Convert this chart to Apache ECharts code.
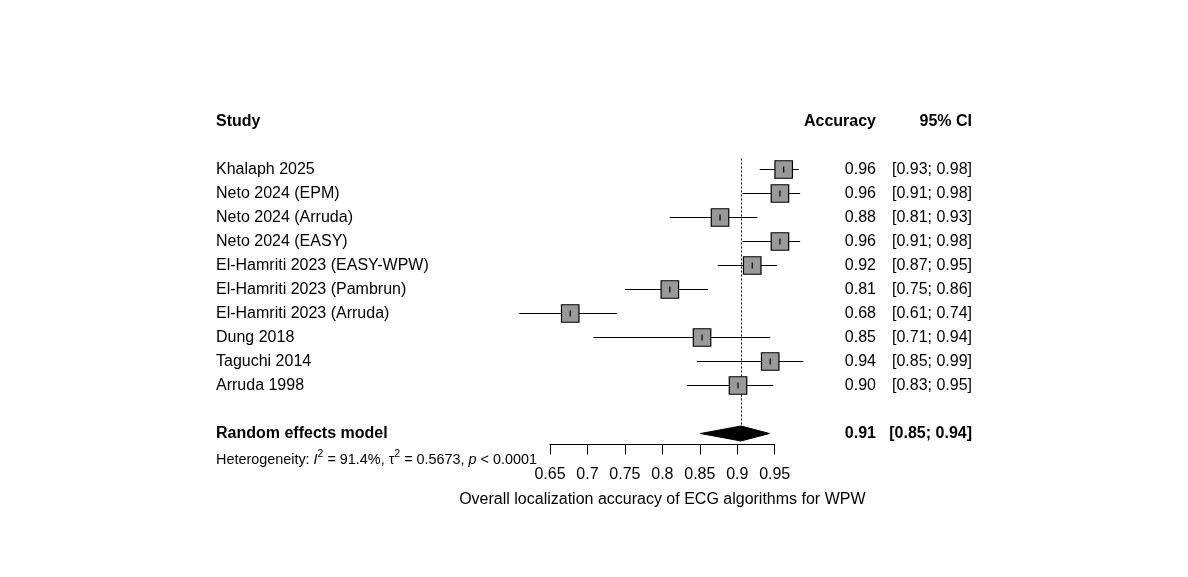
<!DOCTYPE html>
<html>
<head>
<meta charset="utf-8">
<script src="https://cdn.jsdelivr.net/npm/echarts@6/dist/echarts.min.js"></script>
<style>
html, body { margin: 0; padding: 0; background: #fff; }
#main { width: 1188px; height: 577px; }
</style>
</head>
<body>
<div id="main"></div>
<script>
var studies = ['Khalaph 2025', 'Neto 2024 (EPM)', 'Neto 2024 (Arruda)', 'Neto 2024 (EASY)',
	'El-Hamriti 2023 (EASY-WPW)', 'El-Hamriti 2023 (Pambrun)', 'El-Hamriti 2023 (Arruda)',
	'Dung 2018', 'Taguchi 2014', 'Arruda 1998'];
var accuracy = [0.962, 0.957, 0.877, 0.957, 0.920, 0.810, 0.677, 0.853, 0.944, 0.901];
var ciLower = [0.930, 0.907, 0.810, 0.907, 0.874, 0.750, 0.609, 0.708, 0.846, 0.833];
var ciUpper = [0.982, 0.984, 0.927, 0.984, 0.953, 0.861, 0.739, 0.944, 0.988, 0.948];
var pooled = [0.905, 0.851, 0.943]; // estimate, lower, upper
var xTicks = [0.65, 0.7, 0.75, 0.8, 0.85, 0.9, 0.95];
var modelName = 'Random effects model';
var rows = studies.concat(['', modelName]);

var font = '"Liberation Sans", Arial, sans-serif';
var myChart = echarts.init(document.getElementById('main'));

// x scale: 0.65 -> 550px, 0.95 -> 774.7px
var pxPerUnit = (774.7 - 550) / 0.3;
var colAcc = 876, colCI = 972, colStudy = 216;
var textDy = 0;

function fmt(v) { return v.toFixed(2); }

var studyData = accuracy.map(function (v, i) {
	return [v, i, ciLower[i], ciUpper[i]];
});

var option = {
	animation: false,
	grid: [
		{ left: 550 - 0.05 * pxPerUnit, width: 0.4 * pxPerUnit, top: 157.5, height: 288 },
		{ left: 550, width: 0.3 * pxPerUnit, top: 434.5, height: 10 }
	],
	xAxis: [
		{ gridIndex: 0, type: 'value', min: 0.6, max: 1.0, show: false },
		{
			gridIndex: 1, type: 'value', min: xTicks[0], max: xTicks[xTicks.length - 1], interval: 0.05,
			splitLine: { show: false },
			axisLine: { show: true, lineStyle: { color: '#000', width: 1 } },
			axisTick: { show: true, length: 10, lineStyle: { color: '#000' } },
			axisLabel: {
				margin: 22, color: '#000', fontSize: 16, fontFamily: font,
				formatter: function (v) { return String(Math.round(v * 100) / 100); }
			},
			name: 'Overall localization accuracy of ECG algorithms for WPW',
			nameLocation: 'middle', nameGap: 47,
			nameTextStyle: { color: '#000', fontSize: 16, fontFamily: font }
		}
	],
	yAxis: [
		{ gridIndex: 0, type: 'category', data: rows, inverse: true, show: false },
		{ gridIndex: 1, type: 'value', show: false }
	],
	graphic: [
		{ type: 'text', x: colStudy, y: 121.5, style: { text: 'Study', font: 'bold 16px ' + font, fill: '#000', verticalAlign: 'middle' } },
		{ type: 'text', x: colAcc, y: 121.5, style: { text: 'Accuracy', font: 'bold 16px ' + font, fill: '#000', align: 'right', verticalAlign: 'middle' } },
		{ type: 'text', x: colCI, y: 121.5, style: { text: '95% CI', font: 'bold 16px ' + font, fill: '#000', align: 'right', verticalAlign: 'middle' } },
		{
			type: 'text', x: colStudy, y: 460,
			style: {
				text: 'Heterogeneity: {i|I}{sup|2} = 91.4%, τ{sup|2} = 0.5673, {i|p} < 0.0001',
				font: '14.4px ' + font, fill: '#000', verticalAlign: 'middle',
				rich: {
					i: { fontStyle: 'italic', fontSize: 14.4, fontFamily: font },
					sup: { fontSize: 10.5, fontFamily: font, padding: [0, 0, 11, 0] }
				}
			}
		}
	],
	series: [
		{
			type: 'custom',
			xAxisIndex: 0, yAxisIndex: 0,
			clip: false,
			z: 1,
			data: [[pooled[0], rows.length - 1, pooled[1], pooled[2]]],
			encode: { x: [0, 2, 3], y: 1 },
			renderItem: function (params, api) {
				var i = api.value(1);
				var c = api.coord([api.value(0), i]);
				var lo = api.coord([api.value(2), i]);
				var hi = api.coord([api.value(3), i]);
				var top = api.coord([api.value(0), 0]);
				var lx = Math.round(c[0]) + 0.5;
				var h = 7.5;
				var txt = { font: 'bold 16px ' + font, fill: '#000', verticalAlign: 'middle' };
				return {
					type: 'group',
					children: [
						{ type: 'line', shape: { x1: lx, y1: top[1] - 11, x2: lx, y2: c[1] - h }, style: { stroke: '#000', lineWidth: 1, lineDash: [2, 2] } },
						{ type: 'polygon', shape: { points: [[lo[0], c[1]], [c[0], c[1] - h], [hi[0], c[1]], [c[0], c[1] + h]] }, style: { fill: '#000', stroke: '#000', lineWidth: 1 } },
						{ type: 'text', x: colStudy, y: c[1] + textDy, style: Object.assign({ text: modelName }, txt) },
						{ type: 'text', x: colAcc, y: c[1] + textDy, style: Object.assign({ text: fmt(api.value(0)), align: 'right' }, txt) },
						{ type: 'text', x: colCI, y: c[1] + textDy, style: Object.assign({ text: '[' + fmt(api.value(2)) + '; ' + fmt(api.value(3)) + ']', align: 'right' }, txt) }
					]
				};
			}
		},
		{
			type: 'custom',
			xAxisIndex: 0, yAxisIndex: 0,
			clip: false,
			z: 2,
			data: studyData,
			encode: { x: [0, 2, 3], y: 1 },
			renderItem: function (params, api) {
				var i = api.value(1);
				var c = api.coord([api.value(0), i]);
				var lo = api.coord([api.value(2), i]);
				var hi = api.coord([api.value(3), i]);
				var s = 17.5;
				var txt = { font: '16px ' + font, fill: '#000', verticalAlign: 'middle' };
				return {
					type: 'group',
					children: [
						{ type: 'line', shape: { x1: lo[0], y1: c[1], x2: hi[0], y2: c[1] }, style: { stroke: '#000', lineWidth: 1.2 } },
						{ type: 'rect', shape: { x: c[0] - s / 2, y: c[1] - s / 2, width: s, height: s }, style: { fill: '#999999', stroke: '#000', lineWidth: 1.2 } },
						{ type: 'line', shape: { x1: c[0], y1: c[1] - 3, x2: c[0], y2: c[1] + 3 }, style: { stroke: '#000', lineWidth: 1.2 } },
						{ type: 'text', x: colStudy, y: c[1] + textDy, style: Object.assign({ text: studies[i] }, txt) },
						{ type: 'text', x: colAcc, y: c[1] + textDy, style: Object.assign({ text: fmt(api.value(0)), align: 'right' }, txt) },
						{ type: 'text', x: colCI, y: c[1] + textDy, style: Object.assign({ text: '[' + fmt(api.value(2)) + '; ' + fmt(api.value(3)) + ']', align: 'right' }, txt) }
					]
				};
			}
		}
	]
};

myChart.setOption(option);
</script>
</body>
</html>
